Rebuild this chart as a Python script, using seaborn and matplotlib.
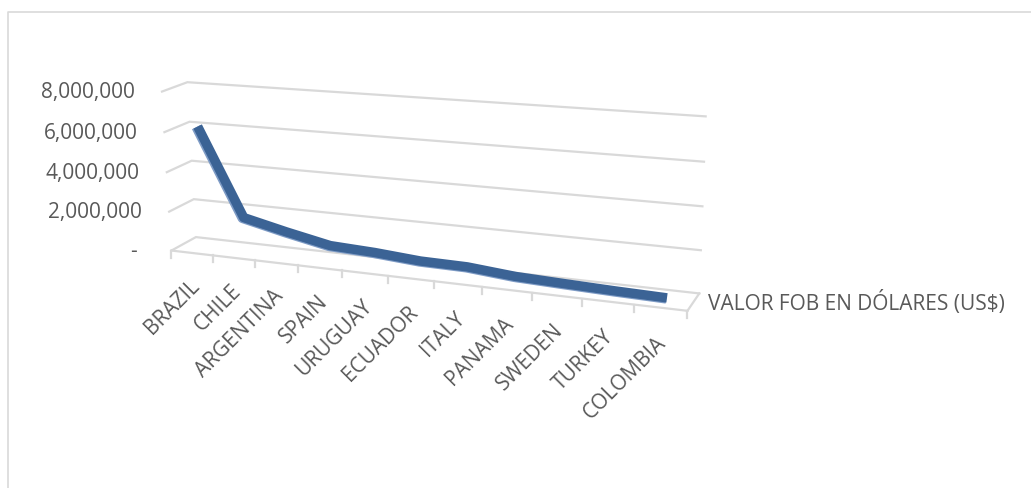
import numpy as np
import pandas as pd
import seaborn as sns
import matplotlib.pyplot as plt
import matplotlib.transforms as mtransforms

# data
countries = ['BRAZIL', 'CHILE', 'ARGENTINA', 'SPAIN', 'URUGUAY', 'ECUADOR',
             'ITALY', 'PANAMA', 'SWEDEN', 'TURKEY', 'COLOMBIA']
fob_usd = [6100000, 1700000, 1200000, 750000, 650000, 480000,
           450000, 250000, 170000, 100000, 50000]
y_ticks = [0, 2000000, 4000000, 6000000, 8000000]
y_tick_labels = ['-', '2,000,000', '4,000,000', '6,000,000', '8,000,000']
series_name = 'VALOR FOB EN DÓLARES (US$)'

W, H = 1031, 489
GRID = '#D9D9D9'
TEXT = '#595959'
LINE = '#3B6395'

# Excel style 3D box: x = category slot (0..11), y = value in millions,
# z = depth (0 front, 1 back). Frame corners in pixels, used to fit a camera.
frame_pts = [
    (0, 8, 1, 187, 84), (0, 6, 1, 190, 123), (0, 2, 1, 193, 201), (0, 0, 1, 196, 238),
    (11, 8, 1, 707, 118), (11, 6, 1, 703, 163), (11, 4, 1, 702, 207),
    (11, 2, 1, 700, 250), (11, 0, 1, 701, 293),
    (0, 8, 0, 162, 92), (0, 6, 0, 165, 132), (0, 2, 0, 168, 212),
    (0, 0, 0, 172, 251), (1, 0, 0, 213, 256), (2, 0, 0, 255, 262),
    (3, 0, 0, 298, 267), (4, 0, 0, 343, 272), (5, 0, 0, 388, 277),
    (6, 0, 0, 434, 282), (7, 0, 0, 482, 288), (8, 0, 0, 531, 293),
    (9, 0, 0, 582, 300), (10, 0, 0, 633, 306), (11, 0, 0, 688, 313),
]


def fit_camera(pts):
    rows = []
    for X, Y, Z, u, v in pts:
        u, v = u / 1000, v / 1000
        rows.append([X, Y, Z, 1, 0, 0, 0, 0, -u * X, -u * Y, -u * Z, -u])
        rows.append([0, 0, 0, 0, X, Y, Z, 1, -v * X, -v * Y, -v * Z, -v])
    _, _, vt = np.linalg.svd(np.array(rows, float))
    return vt[-1].reshape(3, 4)


CAM = fit_camera(frame_pts)


def project(X, Y, Z):
    X, Y = np.asarray(X, float), np.asarray(Y, float)
    h = CAM @ np.vstack([X, Y, np.full_like(X, Z), np.ones_like(X)])
    return h[0] / h[2] * 1000, h[1] / h[2] * 1000


class Proj(mtransforms.Transform):
    """(category position, value in US$) -> pixel, on a plane of given depth"""
    input_dims = output_dims = 2

    def __init__(self, z):
        super().__init__()
        self.z = z

    def transform_non_affine(self, values):
        values = np.asarray(values, float)
        u, v = project(values[:, 0], values[:, 1] / 1e6, self.z)
        return np.column_stack([u, v])


plt.rcParams['font.family'] = ['Open Sans', 'DejaVu Sans']
fig = plt.figure(figsize=(W / 100, H / 100), dpi=100)
ax = fig.add_axes([0, 0, 1, 1])

# chart border
ax.plot([8, 8, W], [H, 13, 13], color=GRID, lw=1.2)

# walls / gridlines
for t in y_ticks:
    y = t / 1e6
    fu, fv = project([0], [y], 0)
    bu, bv = project([0, 11], [y, y], 1)
    ax.plot([fu[0], bu[0], bu[1]], [fv[0], bv[0], bv[1]], color=GRID, lw=1.6,
            solid_joinstyle='miter')
# floor front edge and right edge
fu, fv = project([0, 11], [0, 0], 0)
ax.plot(fu, fv, color=GRID, lw=1.6)
ru, rv = project([11], [0], 1)
ax.plot([fu[1], ru[0]], [fv[1], rv[0]], color=GRID, lw=1.6)
# tick marks
for k in range(len(countries) + 1):
    tu, tv = project([k], [0], 0)
    ax.plot([tu[0], tu[0]], [tv[0], tv[0] + 7], color=GRID, lw=1.6)

# the series line (soft lighter underside, then the ribbon)
df = pd.DataFrame({'pos': np.arange(len(countries)) + 0.5, 'fob': fob_usd})
sns.lineplot(data=df, x='pos', y='fob', ax=ax, errorbar=None, color='#7F9CC6',
             linewidth=6.8, solid_joinstyle='round', solid_capstyle='butt',
             transform=Proj(0.44) + ax.transData)
sns.lineplot(data=df, x='pos', y='fob', ax=ax, errorbar=None, color=LINE,
             linewidth=6.8, solid_joinstyle='round', solid_capstyle='butt',
             transform=Proj(0.5) + ax.transData)

# value labels
for t, lab in zip(y_ticks, y_tick_labels):
    u, v = project([0], [t / 1e6], 0)
    ax.text(u[0] - 27 - (8 if lab == '-' else 0), v[0], lab, ha='right', va='center',
            fontsize=15, color=TEXT)

# category labels
for i, c in enumerate(countries):
    u, v = project([i + 0.5], [-1.1], 0)
    ax.text(u[0] - 4, v[0], c, rotation=45, rotation_mode='anchor',
            ha='right', va='top', fontsize=15, color=TEXT)

# series name
su, sv = project([11], [0], 0.5)
ax.text(su[0] + 15, sv[0], series_name, ha='left', va='center',
        fontsize=15, color=TEXT)

ax.set_xlim(0, W)
ax.set_ylim(H, 0)
ax.axis('off')
fig.savefig('out.png', dpi=100)
